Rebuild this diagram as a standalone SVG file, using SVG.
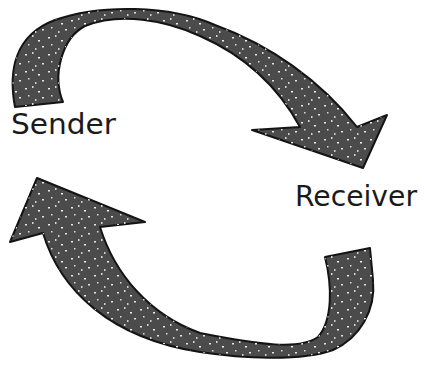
<svg xmlns="http://www.w3.org/2000/svg" xmlns:xlink="http://www.w3.org/1999/xlink" width="425" height="366" viewBox="0 0 425 366">
  <style>
    .label { font-family: "DejaVu Sans", "Liberation Sans", sans-serif; fill: #1a1a1a; }
    .arrow { fill: #4b4b4b; stroke: #141414; stroke-width: 2; stroke-linejoin: round; }
    .speck { fill: url(#specks); stroke: none; }
  </style>
  <defs>
    <pattern id="specks" width="23" height="17" patternUnits="userSpaceOnUse">
      <rect x="2" y="3" width="2" height="1.5" fill="#e8e8e8"/>
      <rect x="9" y="1" width="1.5" height="2" fill="#d8d8d8"/>
      <rect x="15" y="6" width="2" height="1.5" fill="#f0f0f0"/>
      <rect x="5" y="10" width="1.5" height="1.5" fill="#dcdcdc"/>
      <rect x="19" y="12" width="2" height="1.5" fill="#e6e6e6"/>
      <rect x="12" y="14" width="1.5" height="2" fill="#cfcfcf"/>
    </pattern>
    <path id="topArrow" d="M15,107 C8,70 15,35 55,20 C100,4 170,5 215,25 C270,45 320,80 357,127 L387,115 L363,168 L252,130 L300,127 C280,90 250,58 200,36 C165,20 120,12 85,26 C62,38 52,75 63,102 Z"/>
    <path id="bottomArrow" d="M37,178 L10,242 L43,233 C60,290 110,338 200,352 C240,358 300,362 333,350 C360,338 376,310 373,280 L370,248 L325,257 C332,285 333,320 318,337 C300,350 260,345 200,333 C150,315 115,275 100,227 L145,222 Z"/>
  </defs>
  <rect width="425" height="366" fill="#ffffff"/>
  <g id="connectors">
    <g id="sender-to-receiver">
      <use xlink:href="#topArrow" href="#topArrow" class="arrow"/>
      <use xlink:href="#topArrow" href="#topArrow" class="speck"/>
    </g>
    <g id="receiver-to-sender">
      <use xlink:href="#bottomArrow" href="#bottomArrow" class="arrow"/>
      <use xlink:href="#bottomArrow" href="#bottomArrow" class="speck"/>
    </g>
  </g>
  <g id="sender">
    <text class="label" x="11" y="134" font-size="29" textLength="105" lengthAdjust="spacingAndGlyphs">Sender</text>
  </g>
  <g id="receiver">
    <text class="label" x="295" y="206" font-size="28" textLength="122" lengthAdjust="spacingAndGlyphs">Receiver</text>
  </g>
</svg>
